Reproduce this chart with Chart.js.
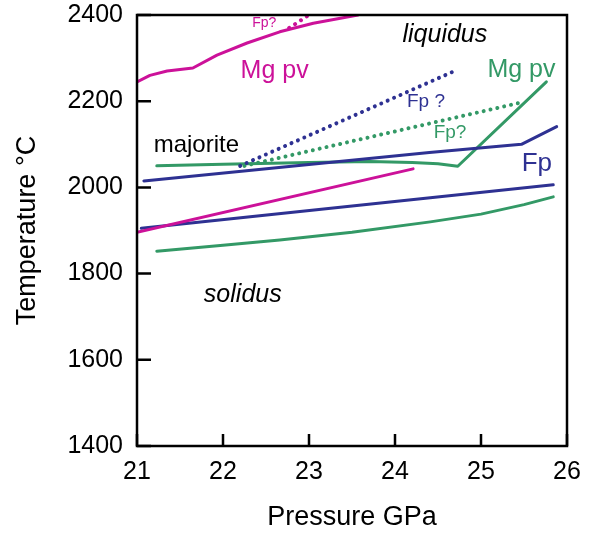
<!DOCTYPE html>
<html>
<head>
<meta charset="utf-8">
<script src="https://cdn.jsdelivr.net/npm/chart.js@4.4.1/dist/chart.umd.min.js"></script>
<style>
  html, body { margin: 0; padding: 0; background: #fff; }
  #wrap { width: 593px; height: 533px; }
</style>
</head>
<body>
<div id="wrap"><canvas id="phase" width="593" height="533"></canvas></div>
<script>
// ticks
var pressureTicks = [21, 22, 23, 24, 25, 26];
var tempTicks = [1400, 1600, 1800, 2000, 2200, 2400];

// Mg perovskite (magenta)
var mgpvLiqP = [21.0, 21.15, 21.35, 21.65, 21.93, 22.28, 22.66, 23.05, 23.57];
var mgpvLiqT = [2245, 2260, 2270, 2277, 2307, 2335, 2361, 2381, 2400];
var mgpvFpP = [22.77, 23.0];
var mgpvFpT = [2370, 2400];
var mgpvSolP = [21.0, 24.21];
var mgpvSolT = [1896, 2043];

// Fp (blue)
var fpLiqP = [21.08, 23.0, 24.4, 25.47, 25.88];
var fpLiqT = [2015, 2053, 2081, 2100, 2141];
var fpDotP = [22.2, 24.67];
var fpDotT = [2050, 2268];
var fpSolP = [21.05, 24.41, 25.84];
var fpSolT = [1905, 1976, 2006];

// majorite / Mg pv (green)
var majLiqP = [21.23, 22.0, 23.0, 23.71, 24.2, 24.5, 24.73, 25.76];
var majLiqT = [2050, 2054, 2058, 2060, 2058, 2055, 2049, 2245];
var majDotP = [22.25, 25.49];
var majDotT = [2050, 2198];
var majSolP = [21.23, 22.0, 22.66, 23.5, 24.41, 25.0, 25.5, 25.84];
var majSolT = [1852, 1866, 1878, 1896, 1920, 1938, 1960, 1978];

// text labels placed in data coordinates
var noteText = ["liquidus", "majorite", "solidus", "Mg pv", "Fp?", "Fp ?", "Fp?", "Fp", "Mg pv"];
var noteP = [24.58, 21.69, 22.23, 22.6, 22.48, 24.36, 24.64, 25.65, 25.47];
var noteT = [2354, 2098, 1750, 2270, 2381, 2198, 2126, 2054, 2272];

var MAGENTA = "#cc1199";
var BLUE = "#2e3192";
var GREEN = "#339966";
var FONT = "'Liberation Sans', Arial, sans-serif";

var noteColor = ["#000", "#000", "#000", MAGENTA, MAGENTA, BLUE, GREEN, BLUE, GREEN];
var noteFont = ["italic 25px", "24px", "italic 25px", "25px", "14px", "19px", "19px", "26px", "25px"];

function pts(xs, ys) {
  return xs.map(function (v, i) { return { x: v, y: ys[i] }; });
}

function solid(xs, ys, color) {
  return { data: pts(xs, ys), borderColor: color, borderWidth: 3, pointRadius: 0, tension: 0,
           borderCapStyle: "round", borderJoinStyle: "round" };
}

function dotted(xs, ys, color) {
  return { data: pts(xs, ys), borderColor: color, borderWidth: 4, pointRadius: 0,
           borderDash: [0.01, 7], borderCapStyle: "round" };
}

// frame, inward tick marks and text labels
var framePlugin = {
  id: "frame",
  afterDatasetsDraw: function (chart) {
    var ctx = chart.ctx, a = chart.chartArea, x = chart.scales.x, y = chart.scales.y;
    ctx.save();
    ctx.strokeStyle = "#000";
    ctx.lineWidth = 2.5;
    ctx.strokeRect(a.left, a.top, a.right - a.left, a.bottom - a.top);
    ctx.beginPath();
    x.ticks.forEach(function (t) {
      var px = x.getPixelForValue(t.value);
      ctx.moveTo(px, a.bottom); ctx.lineTo(px, a.bottom - 12);
    });
    y.ticks.forEach(function (t) {
      var py = y.getPixelForValue(t.value);
      ctx.moveTo(a.left, py); ctx.lineTo(a.left + 14, py);
    });
    ctx.stroke();

    ctx.textAlign = "center";
    ctx.textBaseline = "middle";
    noteText.forEach(function (s, i) {
      ctx.fillStyle = noteColor[i];
      ctx.font = noteFont[i] + " " + FONT;
      ctx.fillText(s, x.getPixelForValue(noteP[i]), y.getPixelForValue(noteT[i]));
    });
    ctx.restore();
  }
};

var ctx = document.getElementById("phase").getContext("2d");
var phaseChart = new Chart(ctx, {
  type: "line",
  data: {
    datasets: [
      solid(mgpvLiqP, mgpvLiqT, MAGENTA),
      dotted(mgpvFpP, mgpvFpT, MAGENTA),
      solid(mgpvSolP, mgpvSolT, MAGENTA),
      solid(fpLiqP, fpLiqT, BLUE),
      dotted(fpDotP, fpDotT, BLUE),
      solid(fpSolP, fpSolT, BLUE),
      solid(majLiqP, majLiqT, GREEN),
      dotted(majDotP, majDotT, GREEN),
      solid(majSolP, majSolT, GREEN)
    ]
  },
  options: {
    responsive: false,
    animation: false,
    layout: { padding: { left: 0, top: 15, right: 26, bottom: 0 } },
    plugins: { legend: { display: false }, tooltip: { enabled: false } },
    scales: {
      x: {
        type: "linear",
        min: 21, max: 26,
        afterBuildTicks: function (s) { s.ticks = pressureTicks.map(function (v) { return { value: v }; }); },
        afterFit: function (s) { s.height = 87; s.paddingLeft = 0; s.paddingRight = 0; },
        grid: { display: false, drawTicks: false },
        border: { display: false },
        ticks: { color: "#000", padding: 11, maxRotation: 0, font: { family: FONT, size: 25 },
                 callback: function (v) { return String(v); } },
        title: { display: true, text: "Pressure GPa", color: "#000", padding: { top: 0, bottom: 1 },
                 font: { family: FONT, size: 27, lineHeight: 1.1 } }
      },
      y: {
        type: "linear",
        min: 1400, max: 2400,
        afterBuildTicks: function (s) { s.ticks = tempTicks.map(function (v) { return { value: v }; }); },
        afterFit: function (s) { s.width = 137; s.paddingTop = 0; s.paddingBottom = 0; },
        grid: { display: false, drawTicks: false },
        border: { display: false },
        ticks: { color: "#000", padding: 14, font: { family: FONT, size: 25 },
                 callback: function (v) { return String(v); } },
        title: { display: true, text: "Temperature °C", color: "#000", padding: { top: 13, bottom: 0 },
                 font: { family: FONT, size: 27, lineHeight: 1.1 } }
      }
    }
  },
  plugins: [framePlugin]
});
</script>
</body>
</html>
